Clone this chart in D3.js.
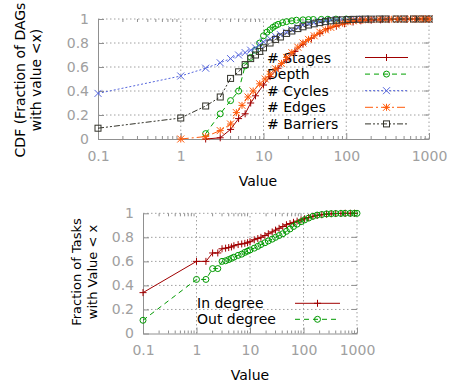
<!DOCTYPE html>
<html>
<head>
<meta charset="utf-8">
<script src="https://cdn.jsdelivr.net/npm/d3@7"></script>
<style>
  body { margin: 0; background: #fff; }
  svg { font-family: "DejaVu Sans", sans-serif; }
</style>
</head>
<body>
<svg width="449" height="383"></svg>
<script>
// ---- top chart data (CDF of DAG properties) ----
var stagesX = [2, 3, 4, 5, 6, 7, 8, 10, 12, 15, 19, 24, 30, 38, 48, 60, 76, 95, 121, 150, 200, 260, 330, 420, 530, 680, 850, 1000];
var stagesY = [0, 0.01, 0.08, 0.17, 0.21, 0.3, 0.36, 0.45, 0.52, 0.59, 0.66, 0.73, 0.79, 0.84, 0.88, 0.92, 0.94, 0.96, 0.975, 0.985, 0.99, 0.993, 0.995, 0.997, 0.998, 0.999, 1, 1];

var depthX = [2, 3, 4, 5, 6, 7, 8, 9, 10, 11, 12, 13, 14, 15, 17, 19, 22, 25, 30, 35, 40, 50, 60, 75, 100];
var depthY = [0.045, 0.21, 0.32, 0.40, 0.61, 0.68, 0.74, 0.80, 0.86, 0.89, 0.91, 0.93, 0.945, 0.955, 0.97, 0.978, 0.985, 0.99, 0.993, 0.995, 0.996, 0.997, 0.998, 0.999, 1];

var cyclesX = [0.1, 1, 2, 3, 4, 5, 6, 7, 8, 9, 10, 12, 14, 16, 19, 22, 26, 30, 35, 40, 48, 56, 65, 76, 90, 110, 130, 160, 200, 300, 500, 1000];
var cyclesY = [0.38, 0.525, 0.59, 0.635, 0.67, 0.70, 0.72, 0.74, 0.76, 0.785, 0.81, 0.835, 0.855, 0.87, 0.89, 0.91, 0.93, 0.95, 0.96, 0.97, 0.98, 0.985, 0.99, 0.992, 0.994, 0.996, 0.997, 0.998, 0.999, 1, 1, 1];

var edgesX = [1, 2, 3, 4, 4.7, 5.5, 6.5, 7.5, 9, 10.5, 12, 14, 16.5, 19, 22, 26, 30, 35, 41, 48, 56, 65, 76, 90, 105, 121, 145, 170, 200, 250, 300, 350, 420, 500, 600, 700, 800, 900, 1000];
var edgesY = [0, 0.02, 0.07, 0.125, 0.22, 0.28, 0.35, 0.40, 0.46, 0.50, 0.54, 0.585, 0.63, 0.68, 0.72, 0.765, 0.80, 0.83, 0.86, 0.89, 0.91, 0.93, 0.95, 0.965, 0.977, 0.985, 0.99, 0.993, 0.995, 0.997, 0.998, 0.998, 0.999, 0.999, 1, 1, 1, 1, 1];

var barriersX = [0.1, 1, 2, 3, 4, 5, 6, 7, 8, 9, 10, 12, 14, 16, 19, 22, 26, 30, 35, 41, 48, 56, 65, 76, 90, 105, 121, 145, 170, 200, 250, 300, 400, 500, 650, 800, 1000];
var barriersY = [0.09, 0.175, 0.275, 0.35, 0.505, 0.56, 0.62, 0.67, 0.70, 0.73, 0.76, 0.80, 0.83, 0.85, 0.88, 0.90, 0.92, 0.935, 0.95, 0.96, 0.97, 0.978, 0.985, 0.99, 0.993, 0.995, 0.997, 0.998, 0.999, 0.999, 1, 1, 1, 1, 1, 1, 1];

// ---- bottom chart data (task degree) ----
var inX = [0.1, 1, 1.5, 2, 2.5, 3, 3.5, 4, 4.5, 5, 6, 7, 8, 9, 10, 12, 14, 16, 19, 22, 26, 30, 35, 41, 48, 56, 65, 76, 90, 105, 125, 150, 180, 220, 270, 330, 400, 500, 600, 750, 900];
var inY = [0.34, 0.6, 0.6, 0.67, 0.67, 0.705, 0.71, 0.715, 0.72, 0.73, 0.74, 0.745, 0.75, 0.755, 0.764, 0.78, 0.79, 0.80, 0.815, 0.83, 0.845, 0.86, 0.875, 0.89, 0.905, 0.915, 0.925, 0.935, 0.945, 0.955, 0.965, 0.975, 0.982, 0.988, 0.993, 0.996, 0.998, 0.999, 1, 1, 1];

var outX = [0.1, 1, 1.5, 2, 2.5, 3, 3.5, 4, 4.5, 5, 6, 7, 8, 9, 10, 12, 14, 16, 19, 22, 26, 30, 35, 41, 48, 56, 65, 76, 90, 105, 125, 150, 180, 220, 270, 330, 400, 500, 600, 750, 900, 1000];
var outY = [0.11, 0.45, 0.45, 0.54, 0.54, 0.60, 0.605, 0.615, 0.625, 0.635, 0.65, 0.66, 0.675, 0.685, 0.695, 0.71, 0.725, 0.74, 0.755, 0.77, 0.785, 0.80, 0.815, 0.83, 0.85, 0.87, 0.89, 0.91, 0.93, 0.945, 0.96, 0.975, 0.985, 0.99, 0.995, 0.997, 0.998, 0.999, 1, 1, 1, 1];

var xTicks = [0.1, 1, 10, 100, 1000];
var yTicks = [0, 0.2, 0.4, 0.6, 0.8, 1];

var topSeries = [
  { name: "# Stages", xs: stagesX, ys: stagesY, color: "#a00000", dash: null, marker: "plus" },
  { name: "Depth", xs: depthX, ys: depthY, color: "#00a000", dash: "5,4", marker: "circle" },
  { name: "# Cycles", xs: cyclesX, ys: cyclesY, color: "#5566dd", dash: "2,2", marker: "cross" },
  { name: "# Edges", xs: edgesX, ys: edgesY, color: "#ff5a0a", dash: "8,3,2,3", marker: "star" },
  { name: "# Barriers", xs: barriersX, ys: barriersY, color: "#33332a", dash: "6,2,2,2,2,2", marker: "square" }
];
var bottomSeries = [
  { name: "In degree", xs: inX, ys: inY, color: "#a00000", dash: null, marker: "plus" },
  { name: "Out degree", xs: outX, ys: outY, color: "#009900", dash: "5,4", marker: "circle" }
];

var svg = d3.select("svg");
var gridCol = "#a0a0a0";

function drawMarker(g, type, x, y, color) {
  var s = 3.5;
  if (type == "plus" || type == "star") {
    g.append("path").attr("d", "M" + (x - s) + "," + y + "H" + (x + s) + "M" + x + "," + (y - s) + "V" + (y + s))
      .attr("stroke", color).attr("fill", "none");
  }
  if (type == "cross" || type == "star") {
    g.append("path").attr("d", "M" + (x - s) + "," + (y - s) + "L" + (x + s) + "," + (y + s) + "M" + (x - s) + "," + (y + s) + "L" + (x + s) + "," + (y - s))
      .attr("stroke", color).attr("fill", "none");
  }
  if (type == "circle") {
    g.append("circle").attr("cx", x).attr("cy", y).attr("r", 3)
      .attr("stroke", color).attr("fill", "none");
  }
  if (type == "square") {
    g.append("rect").attr("x", x - 3).attr("y", y - 3).attr("width", 6).attr("height", 6)
      .attr("stroke", color).attr("fill", "none");
  }
}

function drawChart(opt) {
  var x = d3.scaleLog().domain([0.1, 1000]).range([opt.left, opt.right]);
  var y = d3.scaleLinear().domain([0, 1]).range([opt.bottom, opt.top]);
  var g = svg.append("g");

  // grid
  xTicks.forEach(function (t) {
    if (t == 0.1) return;
    g.append("line").attr("x1", x(t)).attr("x2", x(t)).attr("y1", y(0)).attr("y2", y(1))
      .attr("stroke", gridCol).attr("stroke-dasharray", "1.5,2.5");
  });
  yTicks.forEach(function (t) {
    if (t == 0) return;
    g.append("line").attr("x1", x(0.1)).attr("x2", x(1000)).attr("y1", y(t)).attr("y2", y(t))
      .attr("stroke", gridCol).attr("stroke-dasharray", "1.5,2.5");
  });

  // axes
  var xAxis = d3.axisBottom(x).tickValues(xTicks).tickFormat(d3.format("~g")).tickSizeInner(-6).tickSizeOuter(0).tickPadding(12);
  var ax = g.append("g").attr("transform", "translate(0," + y(0) + ")").call(xAxis);
  var yAxis = d3.axisLeft(y).tickValues(yTicks).tickFormat(d3.format("~g")).tickSizeInner(-6).tickSizeOuter(0).tickPadding(9);
  var ay = g.append("g").attr("transform", "translate(" + x(0.1) + ",0)").call(yAxis);
  [ax, ay].forEach(function (a) {
    a.select(".domain").attr("stroke", "#909090");
    a.selectAll(".tick line").attr("stroke", "#909090");
    a.selectAll("text").attr("fill", "#a0a0a0").style("font-size", "14px").style("font-family", "DejaVu Sans");
  });
  // minor log ticks
  var minors = [];
  [0.1, 1, 10, 100].forEach(function (d) {
    for (var k = 2; k < 10; k++) minors.push(d * k);
  });
  minors.forEach(function (m) {
    g.append("line").attr("x1", x(m)).attr("x2", x(m)).attr("y1", y(0)).attr("y2", y(0) - 3)
      .attr("stroke", "#909090");
    g.append("line").attr("x1", x(m)).attr("x2", x(m)).attr("y1", y(1)).attr("y2", y(1) + 3)
      .attr("stroke", "#909090");
  });
  yTicks.forEach(function (t) {
    g.append("line").attr("x1", x(1000)).attr("x2", x(1000) - 5).attr("y1", y(t)).attr("y2", y(t))
      .attr("stroke", "#909090");
  });

  // axis titles
  g.append("text").attr("x", opt.xlabelX).attr("y", opt.xlabelY).attr("text-anchor", "middle")
    .style("font-size", "14px").text("Value");
  opt.ylabel.forEach(function (l, i) {
    g.append("text").attr("transform", "translate(" + l.x + "," + opt.ylabelY + ") rotate(-90)")
      .attr("text-anchor", "middle").style("font-size", opt.ylabelSize)
      .text(l.t);
  });

  // legend text (curves are drawn over it)
  opt.series.forEach(function (s, i) {
    var ly = opt.legY + i * opt.legStep;
    g.append("text").attr("x", opt.legTextX).attr("y", ly + 5).style("font-size", "14px").text(s.name);
  });

  var line = d3.line().x(function (d) { return x(d[0]); }).y(function (d) { return y(d[1]); });
  opt.series.forEach(function (s, i) {
    var pts = s.xs.map(function (v, j) { return [v, s.ys[j]]; });
    g.append("path").datum(pts).attr("d", line).attr("fill", "none")
      .attr("stroke", s.color).attr("stroke-width", 1)
      .attr("stroke-dasharray", s.dash);
    var mg = g.append("g");
    pts.forEach(function (p) { drawMarker(mg, s.marker, x(p[0]), y(p[1]), s.color); });

    // legend sample
    var ly = opt.legY + i * opt.legStep;
    g.append("line").attr("x1", opt.legLine[0]).attr("x2", opt.legLine[1]).attr("y1", ly).attr("y2", ly)
      .attr("stroke", s.color).attr("stroke-dasharray", s.dash);
    drawMarker(g, s.marker, (opt.legLine[0] + opt.legLine[1]) / 2, ly, s.color);
  });
}

drawChart({
  left: 98, right: 429, top: 19, bottom: 139,
  series: topSeries,
  xlabelX: 258, xlabelY: 186,
  ylabel: [{ x: 25, t: "CDF (Fraction of DAGs" }, { x: 41, t: "with value <x)" }],
  ylabelY: 80, ylabelSize: "14px",
  legTextX: 267, legY: 57.5, legStep: 16.6, legLine: [365, 408]
});

drawChart({
  left: 143, right: 357, top: 213.3, bottom: 333.5,
  series: bottomSeries,
  xlabelX: 250, xlabelY: 380,
  ylabel: [{ x: 81, t: "Fraction of Tasks" }, { x: 97, t: "with Value < x" }],
  ylabelY: 272, ylabelSize: "13px",
  legTextX: 197, legY: 303.3, legStep: 16, legLine: [295, 340]
});
</script>
</body>
</html>
